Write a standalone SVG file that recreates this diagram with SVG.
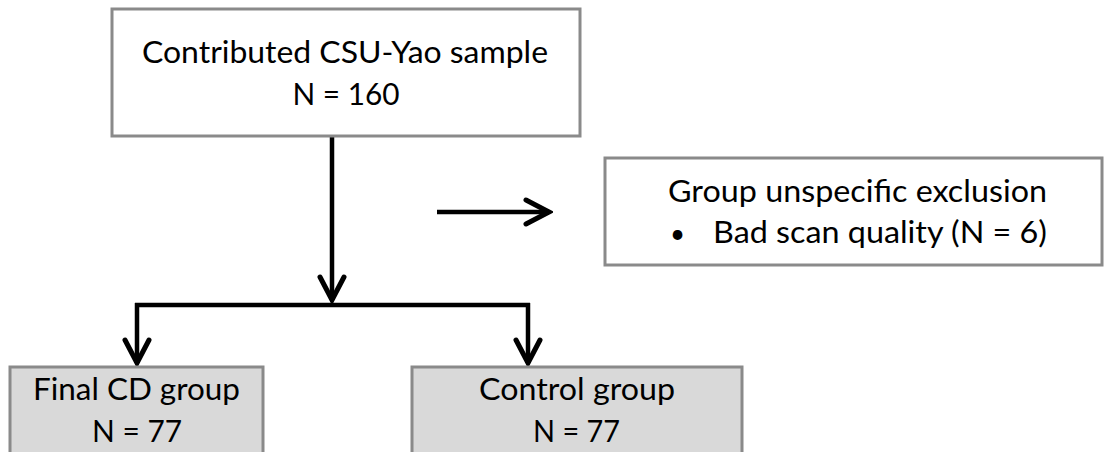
<svg xmlns="http://www.w3.org/2000/svg" width="1104" height="452" viewBox="0 0 1104 452">
  <style>
    .box { fill: #ffffff; stroke: #8a8a8a; stroke-width: 3; }
    .box.group { fill: #d9d9d9; }
    .label { font-family: Lato, "Open Sans", "Liberation Sans", sans-serif; font-size: 30px; fill: #000000; }
    .mid { text-anchor: middle; }
    .wire { fill: none; stroke: #000000; stroke-width: 4.5; }
  </style>
  <defs>
    <marker id="chevron" viewBox="-30 -16 34 32" markerWidth="34" markerHeight="32" refX="0" refY="0" orient="auto" markerUnits="userSpaceOnUse">
      <path d="M -23 -12 L 0 0 L -23 12" fill="none" stroke="#000000" stroke-width="5" stroke-linecap="round" stroke-linejoin="miter"/>
    </marker>
  </defs>

  <rect width="1104" height="452" fill="#ffffff"/>

  <!-- connectors -->
  <g id="connectors">
    <path class="wire" d="M 332 137 V 300" marker-end="url(#chevron)"/>
    <path class="wire" d="M 135 305 H 530"/>
    <path class="wire" d="M 137 303 V 363" marker-end="url(#chevron)"/>
    <path class="wire" d="M 528 303 V 363" marker-end="url(#chevron)"/>
    <path class="wire" d="M 437 212 H 549" marker-end="url(#chevron)"/>
  </g>

  <!-- source sample -->
  <g id="sample">
    <rect class="box" x="112" y="9" width="468" height="127"/>
    <text class="label mid" x="345" y="63" textLength="406" lengthAdjust="spacingAndGlyphs">Contributed CSU-Yao sample</text>
    <text class="label mid" x="346" y="105" textLength="107" lengthAdjust="spacingAndGlyphs">N = 160</text>
  </g>

  <!-- exclusion -->
  <g id="exclusion">
    <rect class="box" x="605" y="158" width="497" height="107"/>
    <text class="label" x="668" y="202" textLength="379" lengthAdjust="spacingAndGlyphs">Group unspecific exclusion</text>
    <text class="label" x="670" y="243" style="font-size:26px">•</text>
    <text class="label" x="713" y="243" textLength="334" lengthAdjust="spacingAndGlyphs">Bad scan quality (N = 6)</text>
  </g>

  <!-- final CD group -->
  <g id="cd-group">
    <rect class="box group" x="10" y="367" width="253" height="100"/>
    <text class="label mid" x="136.5" y="400" textLength="207" lengthAdjust="spacingAndGlyphs">Final CD group</text>
    <text class="label mid" x="137" y="442" textLength="90" lengthAdjust="spacingAndGlyphs">N = 77</text>
  </g>

  <!-- control group -->
  <g id="control-group">
    <rect class="box group" x="412" y="367" width="330" height="100"/>
    <text class="label mid" x="577" y="400" textLength="196" lengthAdjust="spacingAndGlyphs">Control group</text>
    <text class="label mid" x="576.5" y="442" textLength="87" lengthAdjust="spacingAndGlyphs">N = 77</text>
  </g>
</svg>
